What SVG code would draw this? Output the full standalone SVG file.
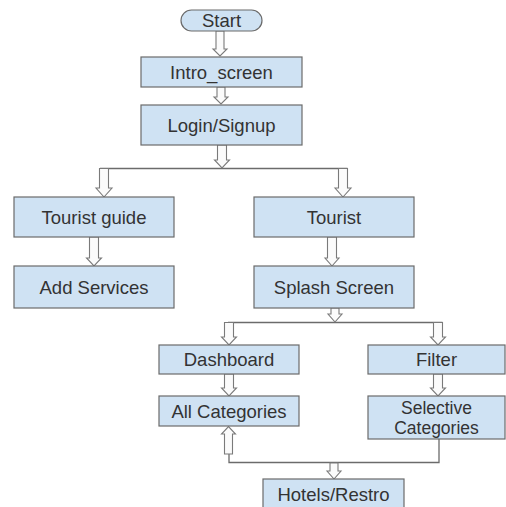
<svg xmlns="http://www.w3.org/2000/svg" width="506" height="507" viewBox="0 0 506 507">
<style>
.box{fill:#cfe2f3;stroke:#6b6b6b;stroke-width:1.2}
.lbl{font-family:"Liberation Sans",Arial,sans-serif;font-size:18.5px;fill:#333;text-anchor:middle;dominant-baseline:central}
.sm{font-size:17.5px}
.arr{fill:#fbfbfb;stroke:#7a7a7a;stroke-width:1.1;stroke-linejoin:miter}
.ln{fill:none;stroke:#6b6b6b;stroke-width:1.3}
</style>
<rect width="506" height="507" fill="#fff"/>
<g id="connectors">
<path class="ln" d="M100 168.5H347.5"/>
<path class="ln" d="M228 322.5H442.5"/>
<path class="ln" d="M229 454V462.5H439V439"/>
<path class="arr" d="M216 31V49H213L220 56L227 49H224V31Z"/>
<path class="arr" d="M217 87V97H214L221 104L228 97H225V87Z"/>
<path class="arr" d="M217.5 145V160H214.5L222 168L229.5 160H226.5V145Z"/>
<path class="arr" d="M99.5 168.5V188H96L104 197L112 188H108.5V168.5Z"/>
<path class="arr" d="M338.5 168.5V188H335L343 197L351 188H347.5V168.5Z"/>
<path class="arr" d="M89.5 237V258H86.5L94 266L101.5 258H98.5V237Z"/>
<path class="arr" d="M327.5 237V258H325L332 266L339 258H336.5V237Z"/>
<path class="arr" d="M331 308V314H328L335 322L342 314H339V308Z"/>
<path class="arr" d="M224.5 322.5V337H221.5L229 345L236.5 337H233.5V322.5Z"/>
<path class="arr" d="M433.5 322.5V337H430.5L438 345L445.5 337H442.5V322.5Z"/>
<path class="arr" d="M224.5 374V388H221.5L229 396L236.5 388H233.5V374Z"/>
<path class="arr" d="M433.5 374V388H430.5L438 396L445.5 388H442.5V374Z"/>
<path class="arr" d="M224.5 454V434H221.5L228.5 426.5L235.5 434H232.5V454Z"/>
<path class="arr" d="M330 463V471H327L334 479L341 471H338V463Z"/>
</g>
<g id="start"><rect class="box" x="181" y="10" width="81" height="21" rx="10.5"/><text class="lbl" x="221.5" y="20.5">Start</text></g>
<g id="intro"><rect class="box" x="141" y="57" width="161" height="30"/><text class="lbl" x="221.5" y="72">Intro_screen</text></g>
<g id="login"><rect class="box" x="141" y="105" width="161" height="40"/><text class="lbl" x="221.5" y="125">Login/Signup</text></g>
<g id="tourist-guide"><rect class="box" x="14" y="197" width="160" height="40"/><text class="lbl" x="94" y="217">Tourist guide</text></g>
<g id="add-services"><rect class="box" x="14" y="266" width="160" height="42"/><text class="lbl" x="94" y="287">Add Services</text></g>
<g id="tourist"><rect class="box" x="254" y="197" width="160" height="40"/><text class="lbl" x="334" y="217">Tourist</text></g>
<g id="splash"><rect class="box" x="254" y="266" width="160" height="42"/><text class="lbl" x="334" y="287">Splash Screen</text></g>
<g id="dashboard"><rect class="box" x="159" y="345" width="140" height="29"/><text class="lbl" x="229" y="359.5">Dashboard</text></g>
<g id="filter"><rect class="box" x="368" y="345" width="137" height="29"/><text class="lbl" x="436.5" y="359.5">Filter</text></g>
<g id="all-categories"><rect class="box" x="159" y="396" width="140" height="30"/><text class="lbl" x="229" y="411">All Categories</text></g>
<g id="selective"><rect class="box" x="368" y="396" width="137" height="43"/><text class="lbl sm" x="436.5" y="408">Selective</text><text class="lbl sm" x="436.5" y="428">Categories</text></g>
<g id="hotels"><rect class="box" x="263" y="479" width="141" height="32"/><text class="lbl" x="333.5" y="494">Hotels/Restro</text></g>
</svg>
